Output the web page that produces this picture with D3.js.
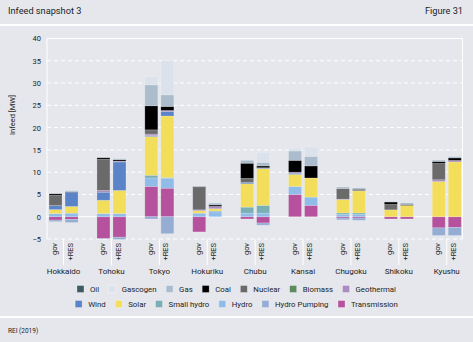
<!DOCTYPE html>
<html>
<head>
<meta charset="utf-8">
<script src="https://cdn.jsdelivr.net/npm/d3@7"></script>
<style>
  html, body { margin: 0; padding: 0; background: #e5e7ec; }
  svg { display: block; font-family: Roboto, "Noto Sans", sans-serif; }
</style>
</head>
<body>
<svg id="chart" width="473" height="342"></svg>
<script>
// ---------- DATA ----------
const regions = ["Hokkaido","Tohoku","Tokyo","Hokuriku","Chubu","Kansai","Chugoku","Shikoku","Kyushu"];
const scenarios = ["gov","+RES"];
const yTicks = [-5,0,5,10,15,20,25,30,35,40];
const seriesNames = ["Oil","Gascogen","Gas","Coal","Nuclear","Biomass","Geothermal","Wind","Solar","Small hydro","Hydro","Hydro Pumping","Transmission"];
const seriesColors = ["#3e5b64","#dce2eb","#abbdcc","#000000","#6a6a6a","#5f8a5d","#a98bbf","#5b84c8","#f2de5b","#7aafb4","#90bce9","#95add3","#b5519d"];

// values per bar: Hokkaido gov, Hokkaido +RES, Tohoku gov, Tohoku +RES, ... Kyushu +RES
const oil          = [0,0, 0,0, 0,0, 0,0, 0,0, 0,0, 0,0, 0,0, 0,0];
const gascogen     = [0,0.1, 0,0, 1.8,7.7, 0,0, 0,2.2, 0.6,2.1, 0.1,0.1, 0,0.1, 0,0.1];
const gas          = [0.05,0.3, 0.1,0.2, 4.7,2.6, 0.1,0.4, 0.65,0.8, 2.1,2.15, 0.35,0.35, 0.1,0.4, 0.3,0.35];
const coal         = [0.35,0.1, 0.35,0.3, 5.4,0.9, 0.2,0.3, 3.4,0.4, 2.65,2.7, 0,0.15, 0.55,0.2, 0.45,0.55];
const nuclear      = [2.3,0, 7.0,0, 0.95,0, 5.0,0, 0.9,0, 0,0, 2.4,0.2, 1.2,0, 3.65,0];
const biomass      = [0,0, 0,0, 0,0, 0,0, 0,0, 0,0, 0,0, 0,0, 0,0];
const geothermal   = [0,0, 0.4,0.2, 0.35,0.25, 0.2,0.55, 0,0, 0.25,0, 0.1,0, 0,0, 0.4,0.35];
const wind         = [0.9,3.2, 1.8,6.4, 0.2,1.0, 0,0, 0.3,0.2, 0.25,0, 0,0, 0,0, 0,0];
const solar        = [0.9,1.5, 3.0,5.2, 8.7,13.8, 0.55,0.5, 5.25,8.25, 2.7,4.3, 3.0,4.95, 1.55,2.55, 7.9,12.3];
const smallHydro   = [0,0, 0,0, 0.6,0.2, 0,0.2, 1.35,1.75, 0,0, 0.35,0.35, 0,0, 0,0];
const hydro        = [0.7,0.8, 0.7,0.7, 1.9,2.2, 0.8,1.1, 0.8,0.8, 1.8,1.85, 0.5,0.5, 0,0, 0,0];
const hydroPumping = [-0.35,-0.7, -0.1,-0.5, -0.5,-3.8, 0,0, 0,-0.5, 0,0, -0.4,-0.5, 0,0, -1.7,-1.8];
const transmission = [-0.75,-0.6, -4.9,-4.6, 6.8,6.4, -3.4,0, -0.5,-1.4, 5.0,2.55, -0.3,-0.3, -0.5,-0.5, -2.5,-2.4];

const seriesValues = [oil,gascogen,gas,coal,nuclear,biomass,geothermal,wind,solar,smallHydro,hydro,hydroPumping,transmission];

// ---------- BUILD ----------
const rows = [];
regions.forEach((r, i) => {
  scenarios.forEach((s, j) => {
    const row = {region: r, scenario: s};
    seriesNames.forEach((n, k) => { row[n] = seriesValues[k][i*2 + j]; });
    rows.push(row);
  });
});

const svg = d3.select("#chart");
const W = 473, H = 342;
const textColor = "#1d1d1f";

// header / footer bands
svg.append("rect").attr("x",0).attr("y",0).attr("width",W).attr("height",H).attr("fill","#e5e7ec");
svg.append("rect").attr("x",0).attr("y",24).attr("width",W).attr("height",2).attr("fill","#ffffff");
svg.append("rect").attr("x",0).attr("y",316).attr("width",W).attr("height",2).attr("fill","#ffffff");
svg.append("text").attr("x",8).attr("y",14).attr("font-size",9.2).attr("fill",textColor).text("Infeed snapshot 3");
svg.append("text").attr("x",463).attr("y",14).attr("text-anchor","end").attr("font-size",9.2).attr("fill",textColor).text("Figure 31");
svg.append("text").attr("x",8).attr("y",332.5).attr("font-size",6.5).attr("fill",textColor).text("REI (2019)");

// scales
const plotL = 47, plotR = 462.5;
const y = d3.scaleLinear().domain([-5, 40]).range([239, 38.5]);
const x0 = d3.scaleBand().domain(regions).range([39.6, 470.7]).padding(0);
const x1 = d3.scaleBand().domain(scenarios).range([-14.5, 14.5]).paddingInner(0.19).paddingOuter(0);
const gc = r => x0(r) + x0.bandwidth()/2;

// grid
const grid = svg.append("g");
yTicks.forEach(t => {
  if (t === 40) return;
  grid.append("line").attr("x1",plotL).attr("x2",plotR).attr("y1",y(t)).attr("y2",y(t))
    .attr("stroke","#ffffff").attr("stroke-width",1)
    .attr("stroke-dasharray", t === 0 ? null : "4,3");
});
// frame: top, left, right solid
svg.append("line").attr("x1",plotL).attr("x2",plotR).attr("y1",y(40)).attr("y2",y(40)).attr("stroke","#fff").attr("stroke-width",1);
svg.append("line").attr("x1",plotL).attr("x2",plotL).attr("y1",y(40)).attr("y2",y(-5)).attr("stroke","#fff").attr("stroke-width",1);
svg.append("line").attr("x1",plotR).attr("x2",plotR).attr("y1",y(40)).attr("y2",y(-5)).attr("stroke","#fff").attr("stroke-width",1);

// y axis
const yAxis = svg.append("g").attr("transform",`translate(${plotL - 6},0)`)
  .call(d3.axisLeft(y).tickValues(yTicks).tickSize(0).tickPadding(0).tickFormat(d3.format("d")));
yAxis.select(".domain").remove();
yAxis.selectAll("text").attr("font-size",7.5).attr("fill",textColor).attr("font-family","Roboto, sans-serif");

svg.append("text").attr("transform","translate(15,115) rotate(-90)").attr("text-anchor","middle")
  .attr("font-size",7.5).attr("fill",textColor).text("Infeed [MW]");

// stacked bars
const stack = d3.stack().keys(seriesNames.slice().reverse()).offset(d3.stackOffsetDiverging);
const stacked = stack(rows);
const colorOf = d3.scaleOrdinal().domain(seriesNames).range(seriesColors);

svg.append("g").selectAll("g").data(stacked).join("g")
  .attr("fill", d => colorOf(d.key))
  .selectAll("rect").data(d => d.filter(p => Math.abs(p[1]-p[0]) > 1e-9)).join("rect")
  .attr("x", d => gc(d.data.region) + x1(d.data.scenario))
  .attr("width", x1.bandwidth())
  .attr("y", d => y(Math.max(d[0], d[1])))
  .attr("height", d => Math.abs(y(d[0]) - y(d[1])))
  .attr("stroke","rgba(255,255,255,0.22)").attr("stroke-width",0.8);

// x labels
const xl = svg.append("g");
regions.forEach(r => {
  const c = gc(r);
  xl.append("line").attr("x1",c).attr("x2",c).attr("y1",239).attr("y2",265).attr("stroke","#fff").attr("stroke-width",1);
  scenarios.forEach((s, j) => {
    const lx = c + (j === 0 ? -9 : 6.5);
    xl.append("text").attr("transform",`translate(${lx + 2.6},243) rotate(-90)`)
      .attr("text-anchor","end").attr("font-size",7.5).attr("fill",textColor).text(s);
  });
  xl.append("text").attr("x",c).attr("y",273.5).attr("text-anchor","middle")
    .attr("font-size",8).attr("fill",textColor).text(r);
});

// legend
const legRows = [seriesNames.slice(0,7), seriesNames.slice(7)];
const legY = [289, 304];
const leg = svg.append("g");
legRows.forEach((names, ri) => {
  const g = leg.append("g");
  let cx = 0;
  names.forEach(n => {
    const it = g.append("g").attr("transform",`translate(${cx},0)`);
    it.append("rect").attr("x",0).attr("y",legY[ri]-3.5).attr("width",7).attr("height",7)
      .attr("fill",colorOf(n)).attr("stroke","rgba(255,255,255,0.5)").attr("stroke-width",0.6);
    const t = it.append("text").attr("x",13).attr("y",legY[ri]+2.8).attr("font-size",7.8).attr("fill",textColor).text(n);
    cx += 13 + t.node().getComputedTextLength() + 9.5;
  });
  const total = cx - 9.5;
  g.attr("transform",`translate(${236.5 - total/2},0)`);
});
</script>
</body>
</html>
